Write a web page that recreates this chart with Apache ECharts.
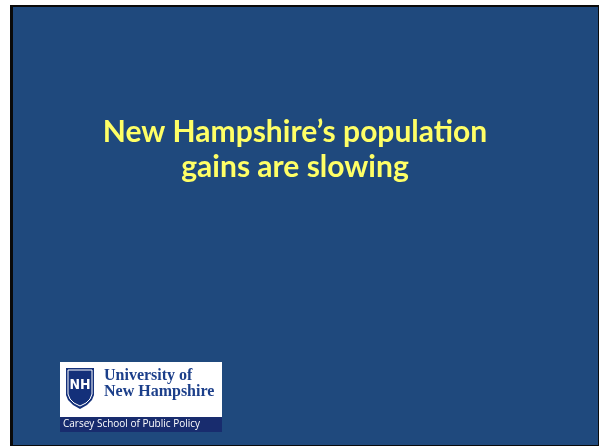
<!DOCTYPE html>
<html>
<head>
<meta charset="utf-8">
<script src="https://cdn.jsdelivr.net/npm/echarts@6/dist/echarts.min.js"></script>
<style>
  html, body { margin: 0; padding: 0; background: #ffffff; }
  #slide { width: 600px; height: 447px; }
</style>
</head>
<body>
<div id="slide"></div>
<script>
// slide texts
const titleLines = ["New Hampshire\u2019s population", "gains are slowing"];
const logoLines = ["University of", "New Hampshire"];
const logoStrip = "Carsey School of Public Policy";

const chart = echarts.init(document.getElementById('slide'), null, { renderer: 'canvas' });

// shield outline (polygon)
const shield = [[66, 368], [94, 368], [94, 395], [92, 400], [87, 405], [80, 409], [73, 405], [68, 400], [66, 395]];
const shieldInner = [[68, 370], [92, 370], [92, 394], [90, 399], [86, 403], [80, 406], [74, 403], [70, 399], [68, 394]];

const option = {
  backgroundColor: '#ffffff',
  animation: false,
  graphic: [
    // border + blue panel
    { type: 'rect', shape: { x: 10, y: 5, width: 589, height: 441 }, style: { fill: '#0a0a0a' } },
    { type: 'rect', shape: { x: 13, y: 7, width: 585, height: 438 }, style: { fill: '#1f497d' } },
    // title
    {
      type: 'text', x: 295, y: 115,
      style: {
        text: titleLines.join('\n'), fill: '#ffff66', align: 'center', verticalAlign: 'top',
        font: 'bold 30px Lato', lineHeight: 35
      }
    },
    // logo box
    { type: 'rect', shape: { x: 60, y: 362, width: 162, height: 56 }, style: { fill: '#ffffff' } },
    { type: 'rect', shape: { x: 60, y: 417, width: 162, height: 15 }, style: { fill: '#182c6e' } },
    {
      type: 'text', x: 63, y: 419,
      style: { text: logoStrip, fill: '#ffffff', verticalAlign: 'top', font: '10px "Open Sans"' }
    },
    // shield
    { type: 'polygon', shape: { points: shield }, style: { fill: '#14307a' } },
    { type: 'polygon', shape: { points: shieldInner }, style: { fill: 'none', stroke: '#ffffff', lineWidth: 1 } },
    {
      type: 'text', x: 80, y: 378,
      style: { text: 'NH', fill: '#ffffff', align: 'center', verticalAlign: 'top', font: 'bold 14px "DejaVu Sans Condensed"' }
    },
    {
      type: 'text', x: 104, y: 368,
      style: {
        text: logoLines.join('\n'), fill: '#1c3f8a', verticalAlign: 'top',
        font: 'bold 16px "Liberation Serif"', lineHeight: 16
      }
    }
  ]
};

chart.setOption(option);
</script>
</body>
</html>
